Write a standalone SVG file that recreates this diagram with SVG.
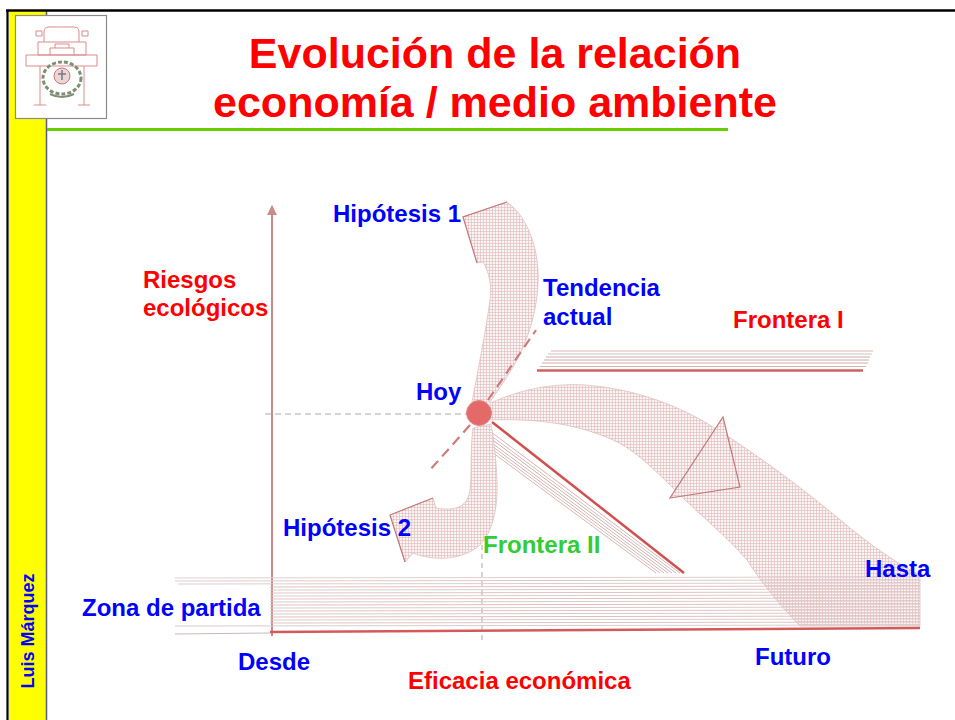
<svg xmlns="http://www.w3.org/2000/svg" width="955" height="720" viewBox="0 0 955 720">
  <style>
    .title { font-family: "Liberation Sans", Arial, sans-serif; font-weight: bold; font-size: 43px; fill: #ff0000; text-anchor: middle; }
    .lbl { font-family: "Liberation Sans", Arial, sans-serif; font-weight: bold; font-size: 24px; }
    .blue { fill: #0000ff; }
    .red { fill: #ff0000; }
    .green { fill: #33cc33; }
    .band { fill: url(#grid); stroke: #e0c0c0; stroke-width: 0.8; }
    .head { fill: url(#grid); stroke: #c27a7a; stroke-width: 1.2; stroke-linejoin: miter; }
    .zl { stroke-width: 1; fill: none; }
  </style>
  <defs>
    <pattern id="grid" width="3" height="3" patternUnits="userSpaceOnUse">
      <rect width="3" height="3" fill="#fbf4f4"/>
      <path d="M0 0.5H3M0.5 0V3" stroke="#ddb9b9" stroke-width="0.6"/>
    </pattern>
    <marker id="axisHead" viewBox="0 0 10 10" refX="9" refY="5" markerWidth="5" markerHeight="5" orient="auto">
      <path d="M0 0L10 5L0 10Z" fill="#c98a8a"/>
    </marker>
  </defs>

  <rect width="955" height="720" fill="#ffffff"/>

  <!-- frame: yellow author strip and black borders -->
  <rect x="9" y="11" width="37" height="709" fill="#ffff00"/>
  <line x1="46.5" y1="11" x2="46.5" y2="720" stroke="#5a5a7a" stroke-width="1.5"/>
  <line x1="7.5" y1="10" x2="7.5" y2="720" stroke="#000" stroke-width="2.2"/>
  <line x1="6" y1="10.5" x2="955" y2="10.5" stroke="#000" stroke-width="2.5"/>
  <text class="lbl blue" style="font-size:18px" text-anchor="middle" transform="translate(34,631) rotate(-90)">Luis Márquez</text>

  <!-- emblem -->
  <g id="logo">
    <rect x="15.5" y="15.5" width="91" height="103" fill="#ffffff" stroke="#8a8a8a" stroke-width="1.2"/>
    <g fill="none" stroke="#d98c8c" stroke-width="1">
      <path d="M44 42V32Q44 27 49 27H74Q79 27 79 32V42"/>
      <path d="M36 31h6v5h-6zM82 31h6v5h-6z"/>
      <path d="M38 42H86V55H38Z"/>
      <path d="M26 55H97V66H26Z"/>
      <path d="M40 66V105M84 66V105M34 105H46M78 105H90"/>
      <path d="M50 55V48H74V55"/>
      <path d="M55 48V44H69V48"/>
    </g>
    <ellipse cx="62" cy="78" rx="19" ry="16" fill="none" stroke="#7f8f76" stroke-width="3" stroke-dasharray="4 2"/>
    <ellipse cx="62" cy="76" rx="8" ry="8" fill="#e9d6d6" stroke="#c77" stroke-width="1"/>
    <path d="M58 74h8M62 70v10" stroke="#7a7a7a" stroke-width="1.5"/>
    <path d="M50 94Q62 100 74 94" fill="none" stroke="#7f8f76" stroke-width="2"/>
  </g>

  <!-- title -->
  <g id="title">
    <text class="title" x="495" y="68">Evolución de la relación</text>
    <text class="title" x="495" y="117">economía / medio ambiente</text>
    <line x1="47" y1="129.5" x2="728" y2="129.5" stroke="#66cc00" stroke-width="3"/>
  </g>

  <!-- axes and guides -->
  <g id="axes">
    <line x1="272" y1="636" x2="272" y2="206" stroke="#c98a8a" stroke-width="2" marker-end="url(#axisHead)"/>
    <line x1="265" y1="414" x2="468" y2="414" stroke="#b0a8a8" stroke-width="1.2" stroke-dasharray="6 4"/>
    <line x1="482" y1="545" x2="482" y2="640" stroke="#b0a8a8" stroke-width="1" stroke-dasharray="5 4"/>
  </g>

  <!-- frontier I -->
  <g id="frontera-1">
    <line x1="551" y1="351" x2="873" y2="351" stroke="#dcb4b4" stroke-width="1"/>
    <line x1="548" y1="354" x2="872" y2="354" stroke="#c9c2c2" stroke-width="1"/>
    <line x1="546" y1="357" x2="870" y2="357" stroke="#dba4a4" stroke-width="1"/>
    <line x1="544" y1="360" x2="869" y2="360" stroke="#b8b2b2" stroke-width="1"/>
    <line x1="542" y1="363" x2="868" y2="363" stroke="#e0a6a6" stroke-width="1"/>
    <line x1="540" y1="366.5" x2="866" y2="366.5" stroke="#d2b6b6" stroke-width="1"/>
    <line x1="537" y1="370.5" x2="863" y2="370.5" stroke="#d06060" stroke-width="2.5"/>
  </g>

  <g id="connectors">
    <!-- present trend towards the far end -->
    <g id="arrow-hasta">
      <path class="band" d="M490 403C520 390 550 383 585 385C625 388 670 400 713 427C760 456 810 494 850 528C880 552 905 568 920 575L920 626L800 626C775 600 760 580 747 560C725 535 700 515 680 495C655 470 635 450 613 440C580 425 540 418 490 420Z"/>
      <path class="head" d="M723 417L740 487L670 498Z"/>
    </g>
    <!-- frontier II -->
    <g id="frontera-2" stroke-width="1" fill="none">
      <line x1="487" y1="429" x2="680" y2="573" stroke="#dbb0b0"/>
      <line x1="486" y1="432" x2="676" y2="573" stroke="#c8c0c0"/>
      <line x1="486" y1="435" x2="672" y2="573" stroke="#dba8a8"/>
      <line x1="485" y1="438" x2="668" y2="573" stroke="#c2bcbc"/>
      <line x1="485" y1="441" x2="664" y2="573" stroke="#e0aeae"/>
      <line x1="485" y1="444" x2="660" y2="573" stroke="#cdbdbd"/>
      <line x1="485" y1="447" x2="656" y2="573" stroke="#dcb2b2"/>
      <line x1="492" y1="422" x2="684" y2="573" stroke="#d05050" stroke-width="2.5"/>
    </g>
    <!-- hypothesis 2: curls down and back -->
    <g id="arrow-hip2">
      <path class="band" d="M473 428C470 450 472 475 470 490C468 505 458 512 436 508L433 498L390 515L405 562L413 553C432 561 462 561 480 545C494 530 498 505 497 480C496 460 494 440 491 424Z"/>
      <path class="head" d="M433 498L390 515L405 562" fill="none"/>
    </g>
    <!-- hypothesis 1: rises and curls back -->
    <g id="arrow-hip1">
      <path class="band" d="M472 402C478 370 486 330 490 300C492 285 489 272 483 262L477 263L463 217L507 202C525 215 536 240 538 270C540 310 525 350 508 375C500 388 494 396 490 402Z"/>
      <path class="head" d="M477 263L463 217L507 202" fill="none"/>
    </g>
    <!-- projected trend lines through the present -->
    <line x1="470" y1="425" x2="430" y2="470" stroke="#d07a7a" stroke-width="2.2" stroke-dasharray="10 6"/>
    <line x1="488" y1="400" x2="536" y2="330" stroke="#d07a7a" stroke-width="2.2" stroke-dasharray="10 6"/>
  </g>

  <!-- starting zone: bundle of horizontal lines along the base -->
  <g id="zona">
    <g class="zl">
      <line x1="175" y1="578" x2="920" y2="577" stroke="#ddd0d0"/>
      <line x1="175" y1="581" x2="920" y2="580" stroke="#e6c6c6"/>
      <line x1="178" y1="584" x2="920" y2="583" stroke="#d8d0d0"/>
      <line x1="270" y1="587" x2="920" y2="586" stroke="#e8bcbc"/>
      <line x1="270" y1="590" x2="920" y2="589" stroke="#d6cccc"/>
      <line x1="270" y1="593" x2="920" y2="592" stroke="#e6c2c2"/>
      <line x1="270" y1="596" x2="920" y2="595" stroke="#d8cdcd"/>
      <line x1="270" y1="599" x2="920" y2="598" stroke="#e8c0c0"/>
      <line x1="270" y1="602" x2="920" y2="601" stroke="#d6caca"/>
      <line x1="270" y1="605" x2="920" y2="604" stroke="#e6bcbc"/>
      <line x1="270" y1="608" x2="920" y2="607" stroke="#d8cccc"/>
      <line x1="270" y1="611" x2="920" y2="610" stroke="#e6c0c0"/>
      <line x1="270" y1="614" x2="920" y2="613" stroke="#d6caca"/>
      <line x1="270" y1="617" x2="920" y2="616" stroke="#e4bcbc"/>
      <line x1="270" y1="620" x2="920" y2="619" stroke="#d6cccc"/>
      <line x1="270" y1="623" x2="920" y2="622" stroke="#e6c0c0"/>
      <line x1="175" y1="626" x2="920" y2="625" stroke="#d8cccc"/>
      <line x1="175" y1="634" x2="270" y2="633" stroke="#c8b8b8"/>
    </g>
    <line x1="270" y1="632" x2="920" y2="628" stroke="#d45a5a" stroke-width="2.5"/>
  </g>

  <!-- present state -->
  <g id="hoy">
    <circle cx="479" cy="413" r="12.5" fill="#e46a6a" stroke="#e08888" stroke-width="1"/>
    <text class="lbl blue" x="416" y="400">Hoy</text>
  </g>

  <!-- labels -->
  <g id="labels">
    <text class="lbl blue" x="333" y="222">Hipótesis 1</text>
    <text class="lbl red" x="143" y="288">Riesgos</text>
    <text class="lbl red" x="143" y="316">ecológicos</text>
    <text class="lbl blue" x="543" y="296">Tendencia</text>
    <text class="lbl blue" x="543" y="325">actual</text>
    <text class="lbl red" x="733" y="328">Frontera I</text>
    <text class="lbl blue" x="283" y="536">Hipótesis 2</text>
    <text class="lbl green" x="483" y="553">Frontera II</text>
    <text class="lbl blue" x="865" y="577">Hasta</text>
    <text class="lbl blue" x="82" y="616">Zona de partida</text>
    <text class="lbl blue" x="238" y="670">Desde</text>
    <text class="lbl blue" x="755" y="665">Futuro</text>
    <text class="lbl red" x="408" y="689">Eficacia económica</text>
  </g>
</svg>
